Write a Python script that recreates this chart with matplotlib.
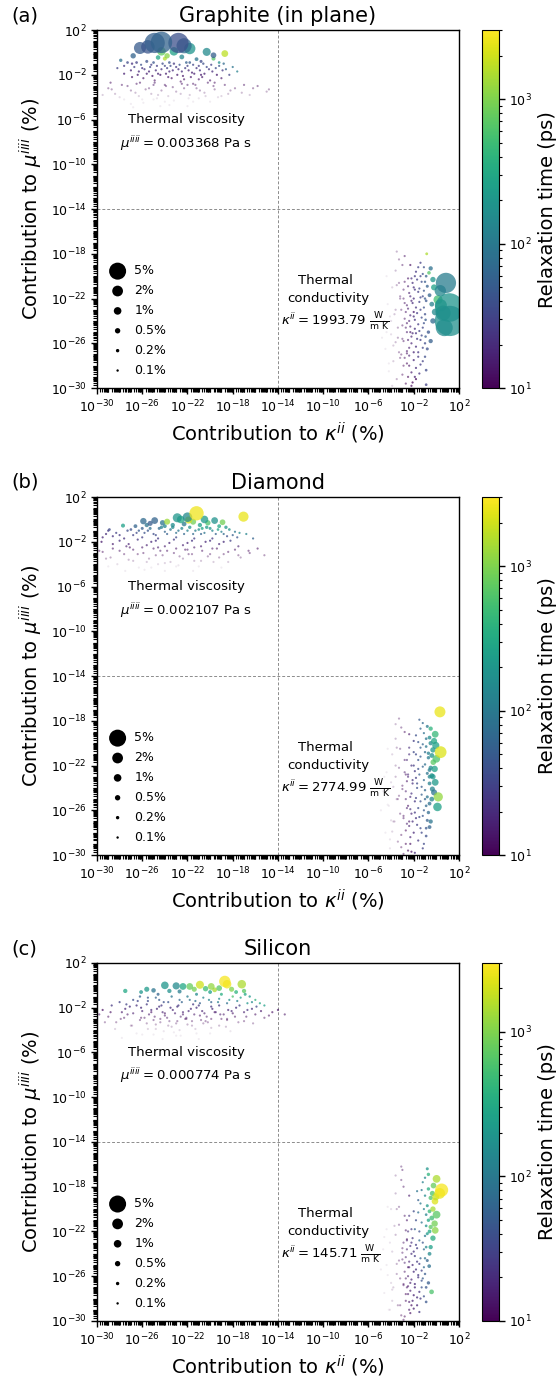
import numpy as np
import matplotlib
matplotlib.use('Agg')
import matplotlib.pyplot as plt
from matplotlib.colors import LogNorm
from matplotlib.cm import ScalarMappable
from matplotlib.ticker import FixedLocator, NullFormatter

# each point: (log10 contribution to kappa %, log10 contribution to mu %, relaxation time ps)
graphite_visc = [
    (-24.9, 0.85, 55), (-24.3, 0.9, 60), (-22.8, 0.85, 40), (-26.2, 0.4, 50), (-21.8, 0.35, 190),
    (-24.3, 0.1, 750), (-23.2, 0.1, 260), (-22.3, 0.6, 70), (-25.5, 0.5, 45), (-20.3, 0.05, 150),
    (-19.7, -0.25, 55), (-18.7, -0.1, 1700), (-19.7, -0.55, 650), (-23.8, -0.3, 1100), (-24.6, -0.45, 300),
    (-22.5, -0.4, 140), (-21.2, -0.6, 90), (-26.8, -0.3, 60), (-20.8, -0.8, 35), (-19.2, -0.9, 180),
    (-24.0, -0.55, 1600), (-25.6, -0.8, 40), (-21.8, -0.9, 50), (-23.6, -0.9, 45), (-27.9, -0.7, 80),
    (-27.6, -1.2, 25), (-27.0, -1.6, 18), (-26.5, -0.9, 30), (-26.0, -1.4, 22), (-25.6, -1.9, 16),
    (-25.2, -1.1, 28), (-24.8, -1.6, 20), (-24.4, -2.0, 15), (-24.0, -1.2, 32), (-23.6, -1.7, 19),
    (-23.2, -1.0, 26), (-22.8, -1.5, 21), (-22.4, -2.1, 14), (-22.0, -1.2, 30), (-21.6, -1.8, 17),
    (-21.2, -1.4, 24), (-20.8, -2.0, 15), (-20.3, -1.3, 35), (-19.8, -1.7, 20), (-19.2, -1.2, 45),
    (-18.6, -1.5, 60), (-18.3, -2.0, 30), (-25.9, -2.3, 13), (-24.9, -2.5, 12), (-23.4, -2.3, 13),
    (-22.6, -2.6, 12), (-21.0, -2.4, 13), (-26.9, -2.2, 14), (-20.0, -2.5, 12), (-19.0, -2.3, 14),
    (-29.5, -3.8, 11), (-28.7, -3.3, 11), (-28.0, -4.0, 10), (-27.3, -3.0, 12), (-26.6, -3.6, 11),
    (-26.0, -4.2, 10), (-25.4, -3.2, 12), (-24.6, -3.8, 11), (-24.0, -4.4, 10), (-23.3, -3.1, 12),
    (-22.6, -3.7, 11), (-21.9, -4.1, 10), (-21.2, -3.2, 12), (-20.5, -3.6, 11), (-19.7, -3.0, 12),
    (-19.0, -3.9, 10), (-18.2, -3.4, 11), (-17.2, -3.6, 10), (-16.2, -3.2, 11), (-15.0, -3.5, 10),
    (-25.0, -2.9, 13), (-22.0, -2.9, 13), (-23.6, -4.7, 10), (-27.0, -4.6, 10), (-20.0, -4.4, 10),
]
graphite_visc_dense = [
    (-27.3, -0.9, 35), (-26.9, -1.0, 22), (-26.7, -1.3, 28), (-26.3, -1.7, 19), (-26.1, -1.1, 40),
    (-25.8, -1.5, 24), (-25.4, -1.7, 18), (-25.3, -1.3, 33), (-25.0, -0.9, 45), (-24.7, -1.2, 27),
    (-24.6, -1.9, 17), (-24.3, -1.5, 23), (-24.2, -1.0, 38), (-23.9, -1.9, 16), (-23.8, -1.4, 29),
    (-23.5, -1.2, 36), (-23.3, -1.6, 21), (-23.0, -1.3, 25), (-22.9, -2.0, 15), (-22.7, -1.1, 42),
    (-22.5, -1.7, 20), (-22.2, -1.4, 28), (-22.1, -0.9, 55), (-21.9, -1.6, 18), (-21.7, -2.2, 14),
    (-21.5, -1.1, 33), (-21.4, -1.9, 16), (-21.0, -1.2, 27), (-20.9, -1.6, 22), (-20.6, -1.0, 40),
    (-20.5, -1.9, 17), (-20.1, -1.5, 25), (-19.9, -1.1, 30), (-19.5, -1.4, 38), (-19.4, -2.0, 15),
    (-18.9, -1.6, 26), (-18.8, -1.0, 70), (-26.4, -2.0, 15), (-25.1, -2.1, 14), (-23.7, -2.2, 14),
    (-22.3, -2.4, 13), (-20.7, -2.2, 14), (-24.0, -2.9, 12), (-21.5, -2.8, 12), (-26.2, -2.7, 12),
    (-19.6, -2.7, 12), (-27.6, -1.9, 17), (-28.2, -1.4, 30), (-18.0, -1.3, 90), (-17.6, -1.7, 120),
]
graphite_visc_haze = [
    (-29.0, -3.2, 11), (-28.4, -3.7, 10), (-27.8, -2.9, 12), (-27.6, -4.2, 10), (-27.0, -3.4, 11),
    (-26.5, -2.8, 12), (-26.3, -3.9, 10), (-25.9, -4.5, 10), (-25.7, -3.3, 11), (-25.2, -3.7, 10),
    (-24.9, -2.7, 13), (-24.7, -4.1, 10), (-24.3, -3.4, 11), (-23.9, -3.0, 12), (-23.7, -3.9, 10),
    (-23.2, -4.3, 10), (-23.0, -3.5, 11), (-22.5, -2.8, 12), (-22.3, -3.2, 11), (-21.8, -3.8, 10),
    (-21.5, -4.4, 10), (-21.3, -2.9, 12), (-20.9, -3.4, 11), (-20.4, -3.9, 10), (-20.2, -2.7, 13),
    (-19.6, -3.3, 11), (-19.3, -4.0, 10), (-18.7, -2.9, 12), (-18.4, -3.7, 10), (-17.8, -3.2, 11),
    (-17.0, -2.9, 12), (-16.5, -3.8, 10), (-15.8, -3.0, 11), (-14.8, -3.3, 10), (-26.8, -4.9, 10),
    (-24.4, -4.8, 10), (-22.0, -4.8, 10), (-28.8, -2.7, 12), (-25.0, -4.2, 10), (-21.0, -4.1, 10),
]
graphite_cond = [
    (0.85, -20.6, 110), (1.15, -22.8, 190), (1.2, -24.0, 170), (0.6, -23.3, 160), (0.15, -22.1, 520),
    (0.35, -21.3, 140), (0.7, -24.6, 150), (0.4, -22.6, 220), (-0.5, -19.3, 80), (-0.65, -19.7, 650),
    (-0.85, -18.0, 1500), (-0.3, -20.3, 200), (-0.2, -21.0, 260), (-0.4, -22.5, 120), (-0.1, -23.2, 150),
    (-0.6, -21.7, 60), (-0.3, -24.0, 70), (-0.7, -25.0, 45), (-0.9, -28.4, 35), (-0.9, -29.7, 30),
    (-0.8, -26.5, 40), (-1.0, -20.5, 50), (-0.5, -25.8, 55),
    (-2.2, -20.2, 20), (-1.8, -19.6, 25), (-1.4, -20.0, 30), (-1.1, -19.2, 40), (-2.4, -21.5, 16),
    (-2.0, -21.0, 22), (-1.6, -21.4, 28), (-1.2, -21.8, 35), (-0.9, -22.2, 45), (-2.6, -22.6, 14),
    (-2.2, -22.2, 18), (-1.8, -22.8, 24), (-1.4, -23.0, 30), (-1.0, -23.4, 38), (-2.8, -23.8, 13),
    (-2.4, -24.0, 16), (-2.0, -23.6, 20), (-1.6, -24.3, 26), (-1.2, -24.6, 32), (-2.6, -25.0, 14),
    (-2.2, -25.4, 17), (-1.8, -25.1, 22), (-1.4, -25.7, 28), (-1.0, -26.0, 36), (-2.4, -26.4, 15),
    (-2.0, -26.8, 18), (-1.6, -27.2, 24), (-1.2, -27.6, 30), (-1.8, -28.2, 20), (-1.4, -18.8, 28),
    (-0.8, -20.9, 55), (-2.9, -21.2, 13),
    (-4.4, -25.0, 10), (-4.0, -24.0, 11), (-3.8, -26.2, 10), (-3.6, -23.0, 11), (-3.4, -25.5, 11),
    (-3.2, -22.0, 12), (-3.1, -27.0, 10), (-3.0, -24.4, 11), (-2.9, -28.0, 10), (-2.8, -20.5, 12),
    (-2.6, -27.8, 11), (-2.5, -29.0, 10), (-2.3, -19.0, 12), (-2.1, -29.5, 10), (-3.5, -20.8, 11),
    (-4.2, -27.8, 10), (-3.3, -18.5, 11), (-1.8, -29.2, 11),
]
graphite_cond_dense = [
    (-2.5, -20.9, 15), (-2.3, -21.8, 17), (-2.1, -20.6, 21), (-1.9, -21.2, 24), (-1.7, -20.3, 29),
    (-1.5, -21.1, 32), (-1.3, -20.5, 38), (-1.1, -21.3, 45), (-0.9, -20.0, 60), (-2.7, -23.2, 13),
    (-2.5, -22.9, 15), (-2.3, -23.5, 17), (-2.1, -22.4, 20), (-1.9, -23.9, 23), (-1.7, -23.3, 27),
    (-1.5, -22.3, 31), (-1.3, -23.7, 36), (-1.1, -22.8, 42), (-0.95, -23.9, 50), (-2.7, -24.6, 13),
    (-2.5, -25.7, 14), (-2.3, -24.5, 17), (-2.1, -25.1, 19), (-1.9, -24.7, 22), (-1.7, -25.6, 25),
    (-1.5, -24.9, 30), (-1.3, -25.3, 34), (-1.1, -24.2, 40), (-0.95, -25.4, 48), (-2.6, -26.7, 13),
    (-2.4, -27.1, 15), (-2.2, -26.0, 17), (-2.0, -27.5, 19), (-1.8, -26.3, 21), (-1.6, -26.8, 24),
    (-1.4, -27.9, 27), (-1.2, -26.4, 33), (-1.0, -27.2, 38), (-2.2, -28.6, 15), (-1.9, -29.0, 17),
    (-1.5, -28.7, 22), (-1.9, -20.0, 25), (-1.6, -19.2, 30), (-1.2, -19.8, 40), (-2.9, -22.0, 12),
    (-3.0, -25.6, 12), (-2.8, -27.3, 12), (-2.0, -22.0, 20), (-1.4, -21.9, 30), (-1.0, -22.0, 48),
]
graphite_cond_haze = [
    (-4.6, -24.0, 10), (-4.5, -26.5, 10), (-4.3, -22.5, 11), (-4.2, -28.5, 10), (-4.0, -25.2, 11),
    (-3.9, -21.0, 11), (-3.8, -27.6, 10), (-3.7, -23.4, 11), (-3.6, -19.5, 12), (-3.5, -29.2, 10),
    (-3.4, -24.6, 11), (-3.3, -26.8, 11), (-3.2, -21.8, 12), (-3.1, -23.0, 12), (-3.0, -28.8, 10),
    (-3.0, -19.0, 12), (-2.9, -25.8, 12), (-2.8, -22.4, 13), (-2.7, -29.6, 10), (-2.6, -24.2, 13),
    (-2.5, -20.2, 13), (-2.4, -28.0, 12), (-2.3, -25.0, 14), (-2.2, -29.8, 11), (-2.0, -23.2, 15),
    (-4.8, -25.5, 10), (-4.4, -20.0, 10), (-3.9, -29.8, 10), (-3.5, -17.8, 11), (-2.8, -18.2, 12),
    (-3.6, -25.9, 11), (-3.2, -27.3, 11), (-4.1, -23.6, 10), (-2.6, -26.9, 12), (-3.3, -20.6, 11),
]
diamond_visc = [
    (-21.2, 0.55, 2600), (-17.05, 0.25, 2500), (-21.9, -0.05, 2000), (-23.8, -0.2, 1300), (-22.6, 0.0, 300),
    (-22.9, 0.15, 200), (-22.0, 0.2, 150), (-21.5, -0.2, 900), (-20.5, 0.0, 220), (-19.6, -0.1, 180),
    (-20.2, -0.3, 600), (-18.9, -0.25, 900), (-22.3, -0.4, 100), (-25.9, -0.15, 70), (-24.9, -0.1, 60),
    (-25.3, -0.35, 50), (-27.7, -0.55, 250), (-24.2, -0.3, 90), (-23.3, -0.5, 160), (-20.9, -0.5, 250),
    (-19.2, -0.6, 300), (-18.3, -0.9, 180), (-17.8, -1.1, 90),
    (-27.0, -0.9, 40), (-26.5, -1.2, 35), (-26.0, -0.8, 55), (-25.5, -1.0, 45), (-25.0, -1.3, 38),
    (-24.5, -0.8, 70), (-24.0, -1.1, 60), (-23.5, -0.9, 110), (-23.0, -1.2, 80), (-22.5, -0.8, 140),
    (-22.0, -1.0, 120), (-21.5, -1.3, 70), (-21.0, -0.9, 160), (-20.5, -1.2, 90), (-20.0, -0.8, 200),
    (-19.5, -1.3, 60), (-19.0, -1.1, 120), (-18.5, -1.5, 40), (-28.3, -1.2, 30), (-29.0, -1.0, 25),
    (-28.6, -1.5, 22),
    (-28.0, -1.9, 20), (-27.2, -2.2, 17), (-26.4, -1.8, 24), (-25.6, -2.3, 16), (-24.8, -1.9, 22),
    (-24.0, -2.4, 15), (-23.2, -1.8, 26), (-22.4, -2.3, 17), (-21.6, -1.9, 24), (-20.8, -2.4, 15),
    (-20.0, -1.9, 22), (-19.2, -2.2, 18), (-18.2, -1.9, 30), (-17.5, -2.4, 16), (-26.8, -2.7, 13),
    (-24.4, -2.8, 13), (-22.0, -2.7, 13), (-29.5, -1.6, 18),
    (-29.5, -2.9, 11), (-28.8, -3.4, 10), (-28.0, -2.8, 12), (-27.2, -3.6, 10), (-26.4, -3.1, 11),
    (-25.6, -3.8, 10), (-24.8, -3.2, 11), (-24.0, -3.9, 10), (-23.2, -3.0, 12), (-22.4, -3.5, 11),
    (-21.6, -3.1, 11), (-20.8, -3.7, 10), (-20.0, -3.1, 11), (-19.2, -3.4, 10), (-18.4, -2.9, 11),
    (-17.5, -3.2, 10), (-16.6, -2.8, 11), (-25.2, -4.3, 10), (-22.8, -4.1, 10),
]
diamond_visc_dense = [
    (-27.3, -1.0, 38), (-26.8, -1.4, 30), (-26.3, -1.0, 50), (-25.8, -1.2, 42), (-25.3, -0.8, 80),
    (-24.8, -1.4, 36), (-24.3, -0.7, 120), (-23.8, -1.3, 55), (-23.3, -0.7, 150), (-22.8, -1.0, 95),
    (-22.3, -1.3, 65), (-21.8, -0.7, 170), (-21.3, -1.0, 110), (-20.8, -1.3, 60), (-20.3, -0.7, 240),
    (-19.8, -1.0, 140), (-19.3, -0.9, 260), (-18.8, -1.3, 70), (-18.0, -1.4, 55), (-17.6, -1.6, 45),
    (-28.0, -1.4, 25), (-27.6, -1.7, 22), (-26.0, -1.6, 28), (-24.6, -1.7, 26), (-23.0, -1.6, 35),
    (-21.4, -1.7, 28), (-19.8, -1.7, 25), (-25.2, -2.0, 19), (-23.6, -2.1, 18), (-22.0, -2.1, 18),
    (-20.4, -2.0, 19), (-18.8, -2.0, 20), (-27.4, -2.4, 15), (-26.0, -2.5, 14), (-24.6, -2.5, 14),
    (-23.0, -2.6, 13), (-21.4, -2.5, 14), (-19.8, -2.6, 13), (-28.6, -2.2, 15), (-29.2, -1.3, 20),
    (-28.9, -0.9, 35), (-26.6, -0.6, 60), (-25.6, -0.5, 90), (-24.0, -0.6, 140), (-20.7, -0.8, 300),
    (-17.4, -1.2, 150), (-18.6, -0.7, 200), (-16.8, -1.3, 130), (-16.2, -1.7, 60), (-29.6, -2.0, 15),
]
diamond_visc_haze = [
    (-29.8, -2.8, 11), (-29.2, -3.5, 10), (-28.6, -2.6, 12), (-28.2, -4.0, 10), (-27.6, -3.1, 11),
    (-27.1, -2.5, 12), (-26.8, -3.7, 10), (-26.3, -4.3, 10), (-25.9, -3.0, 11), (-25.4, -3.5, 10),
    (-25.0, -2.6, 12), (-24.6, -4.0, 10), (-24.2, -3.2, 11), (-23.8, -2.8, 12), (-23.5, -3.8, 10),
    (-23.0, -4.2, 10), (-22.7, -3.3, 11), (-22.2, -2.7, 12), (-21.9, -3.1, 11), (-21.4, -3.7, 10),
    (-21.0, -4.2, 10), (-20.7, -2.8, 12), (-20.2, -3.3, 11), (-19.7, -3.8, 10), (-19.4, -2.6, 12),
    (-18.8, -3.1, 11), (-18.4, -3.8, 10), (-17.8, -2.7, 12), (-17.3, -3.4, 10), (-16.5, -3.0, 11),
    (-15.8, -2.6, 12), (-15.2, -3.2, 10), (-27.5, -4.6, 10), (-24.0, -4.6, 10), (-21.5, -4.6, 10),
    (-29.0, -4.2, 10), (-25.8, -4.5, 10), (-19.0, -4.3, 10),
]
diamond_cond = [
    (0.32, -17.2, 2500), (0.38, -20.8, 2200), (0.17, -24.8, 1200), (0.1, -25.7, 250), (-0.27, -21.7, 700),
    (-0.1, -19.2, 450), (-0.2, -19.8, 300), (-0.05, -20.2, 250), (-0.3, -20.6, 200), (0.0, -21.4, 600),
    (-0.15, -22.3, 250), (-0.4, -22.9, 180), (-0.1, -23.5, 220), (-0.35, -24.1, 130), (-0.5, -18.7, 400),
    (-0.6, -23.6, 120), (-0.2, -24.4, 90),
    (-1.2, -18.2, 70), (-0.9, -19.6, 90), (-1.4, -20.4, 55), (-0.7, -20.9, 120), (-1.6, -21.5, 45),
    (-1.0, -21.9, 80), (-0.6, -22.4, 110), (-1.5, -22.8, 50), (-1.1, -23.3, 70), (-0.8, -24.8, 90),
    (-1.7, -24.0, 40), (-1.3, -24.6, 55), (-0.9, -25.6, 70), (-1.6, -25.8, 38), (-1.2, -26.5, 45),
    (-0.8, -26.9, 55), (-1.4, -27.6, 35), (-0.9, -28.3, 40), (-1.1, -29.0, 35), (-0.6, -27.5, 60),
    (-1.8, -19.3, 40), (-2.0, -20.8, 35),
    (-2.6, -21.5, 18), (-2.2, -22.0, 22), (-1.9, -22.5, 26), (-2.5, -23.0, 17), (-2.1, -23.6, 21),
    (-1.8, -23.1, 28), (-2.7, -24.3, 15), (-2.3, -24.8, 19), (-1.9, -25.2, 24), (-2.6, -25.8, 15),
    (-2.2, -26.3, 18), (-1.8, -26.7, 22), (-2.4, -27.4, 16), (-2.0, -28.0, 19), (-2.8, -22.6, 14),
    (-2.4, -20.4, 20),
    (-4.3, -25.5, 10), (-4.0, -23.5, 11), (-3.8, -27.0, 10), (-3.6, -22.0, 11), (-3.4, -25.0, 11),
    (-3.2, -20.5, 12), (-3.1, -28.2, 10), (-3.0, -23.8, 11), (-2.9, -26.5, 11), (-2.8, -19.0, 12),
    (-2.7, -29.0, 10), (-3.6, -18.3, 11), (-4.1, -28.6, 10), (-2.5, -29.6, 10), (-3.3, -17.8, 11),
]
diamond_cond_dense = [
    (-1.4, -18.7, 60), (-1.1, -19.1, 80), (-0.8, -18.5, 100), (-1.6, -19.9, 45), (-1.2, -20.1, 65),
    (-0.9, -20.3, 95), (-0.5, -20.0, 150), (-1.8, -21.0, 35), (-1.4, -21.2, 50), (-1.0, -20.8, 75),
    (-0.7, -21.3, 110), (-0.4, -21.1, 180), (-2.0, -22.0, 28), (-1.6, -22.3, 40), (-1.2, -22.1, 60),
    (-0.8, -22.7, 90), (-0.5, -22.2, 140), (-2.1, -23.3, 24), (-1.7, -23.6, 35), (-1.3, -23.9, 50),
    (-1.0, -24.2, 65), (-0.6, -23.0, 130), (-2.2, -24.5, 22), (-1.8, -24.9, 30), (-1.4, -25.2, 42),
    (-1.0, -25.0, 60), (-0.6, -25.4, 80), (-2.3, -25.9, 20), (-1.9, -26.2, 26), (-1.5, -26.6, 36),
    (-1.1, -26.0, 50), (-0.7, -26.2, 70), (-2.1, -27.0, 20), (-1.7, -27.3, 28), (-1.3, -28.0, 34),
    (-0.9, -27.6, 45), (-1.6, -28.7, 25), (-1.2, -29.4, 30), (-2.5, -22.8, 18), (-2.4, -21.0, 20),
    (-2.0, -19.8, 28), (-1.5, -17.9, 50), (-0.6, -19.5, 160), (-0.3, -23.0, 200), (-0.4, -25.0, 130),
    (-0.5, -27.0, 90), (-2.7, -25.0, 15), (-2.6, -27.2, 15), (-2.3, -28.4, 17), (-1.9, -29.8, 20),
]
diamond_cond_haze = [
    (-4.9, -26.0, 10), (-4.7, -24.3, 10), (-4.5, -28.0, 10), (-4.4, -22.6, 11), (-4.2, -25.6, 10),
    (-4.1, -29.4, 10), (-3.9, -21.0, 11), (-3.8, -23.9, 11), (-3.7, -27.0, 10), (-3.6, -19.6, 12),
    (-3.5, -25.0, 11), (-3.4, -28.8, 10), (-3.3, -22.2, 12), (-3.2, -26.3, 11), (-3.1, -18.6, 12),
    (-3.0, -24.1, 12), (-2.9, -29.9, 10), (-2.8, -21.5, 13), (-2.7, -27.8, 11), (-2.6, -23.4, 13),
    (-2.5, -25.6, 13), (-2.4, -19.2, 14), (-2.3, -29.0, 12), (-2.2, -29.7, 12), (-3.9, -27.9, 10),
    (-4.3, -20.5, 10), (-3.3, -24.7, 11), (-2.9, -26.7, 12), (-3.6, -23.0, 11), (-4.0, -26.9, 10),
    (-2.7, -22.8, 13), (-3.1, -29.3, 10), (-3.5, -20.4, 11), (-4.6, -23.0, 10), (-2.4, -27.0, 13),
]
silicon_visc = [
    (-18.7, 0.35, 2800), (-18.5, 0.1, 2600), (-20.9, 0.05, 2000), (-17.2, 0.1, 1500), (-21.8, -0.1, 800),
    (-24.0, 0.0, 200), (-23.0, -0.05, 150), (-22.4, -0.1, 300), (-19.9, -0.1, 1200), (-19.2, -0.25, 700),
    (-20.4, -0.3, 500), (-21.4, -0.35, 900), (-18.1, -0.35, 1000), (-17.7, -0.6, 400), (-16.9, -0.8, 300),
    (-16.5, -1.0, 200), (-27.5, -0.5, 300), (-25.0, -0.45, 90), (-26.1, -0.6, 200), (-25.6, -0.35, 220),
    (-23.6, -0.5, 170), (-22.7, -0.55, 110), (-24.6, -0.8, 60), (-20.0, -0.6, 250), (-19.0, -0.8, 350),
    (-21.2, -0.8, 150), (-18.0, -1.0, 600), (-16.3, -1.5, 150), (-16.0, -1.3, 400),
    (-26.8, -1.3, 40), (-26.2, -1.0, 55), (-25.5, -1.4, 35), (-24.8, -1.1, 60), (-24.1, -1.5, 40),
    (-23.4, -1.0, 90), (-22.7, -1.3, 65), (-22.0, -1.0, 110), (-21.3, -1.4, 70), (-20.6, -1.1, 130),
    (-19.9, -1.5, 60), (-19.2, -1.2, 160), (-18.5, -1.6, 80), (-17.6, -1.4, 120), (-28.0, -1.5, 30),
    (-28.7, -1.8, 25), (-27.4, -1.7, 30),
    (-27.5, -2.1, 18), (-26.8, -2.5, 15), (-26.1, -2.0, 20), (-25.4, -2.6, 14), (-24.7, -2.1, 19),
    (-24.0, -2.7, 13), (-23.3, -2.2, 18), (-22.6, -2.8, 13), (-21.9, -2.3, 17), (-21.2, -2.0, 21),
    (-20.5, -2.5, 15), (-19.8, -2.1, 19), (-19.1, -2.6, 14), (-18.4, -2.2, 18), (-17.7, -2.0, 22),
    (-17.0, -2.4, 16), (-16.3, -2.1, 20), (-25.0, -3.1, 12), (-23.6, -3.2, 12), (-22.2, -3.0, 12),
    (-20.8, -3.1, 12), (-24.3, -1.8, 24), (-22.9, -1.9, 22), (-21.5, -1.7, 26),
    (-29.5, -2.2, 12), (-29.0, -2.8, 11), (-28.3, -3.3, 10), (-27.6, -2.9, 11), (-26.9, -3.6, 10),
    (-26.2, -3.1, 11), (-25.5, -3.9, 10), (-24.8, -3.5, 10), (-24.1, -4.1, 10), (-23.4, -3.7, 10),
    (-22.7, -4.0, 10), (-22.0, -3.5, 10), (-21.3, -3.9, 10), (-20.6, -3.4, 11), (-19.9, -3.0, 11),
    (-19.2, -3.6, 10), (-18.5, -3.1, 11), (-17.8, -2.8, 12), (-17.0, -3.2, 11), (-16.0, -2.6, 12),
    (-15.2, -2.9, 11), (-14.5, -2.4, 12), (-26.0, -4.4, 10), (-23.0, -4.5, 10),
]
silicon_visc_dense = [
    (-26.5, -1.8, 22), (-26.0, -2.3, 17), (-25.6, -1.7, 25), (-25.2, -2.2, 18), (-24.9, -2.8, 13),
    (-24.5, -1.9, 22), (-24.2, -2.4, 16), (-23.8, -2.9, 13), (-23.5, -2.0, 20), (-23.1, -2.5, 15),
    (-22.8, -1.8, 25), (-22.4, -2.4, 16), (-22.1, -2.9, 13), (-21.7, -2.1, 19), (-21.4, -2.6, 14),
    (-21.0, -1.8, 24), (-20.7, -2.3, 17), (-20.3, -2.8, 13), (-19.9, -1.9, 23), (-19.5, -2.4, 16),
    (-19.2, -1.8, 26), (-18.8, -2.6, 14), (-18.1, -2.3, 18), (-17.4, -1.8, 30), (-16.7, -2.2, 22),
    (-15.9, -1.9, 35), (-25.8, -2.9, 12), (-24.4, -3.3, 11), (-23.0, -3.4, 11), (-21.6, -3.2, 11),
    (-20.2, -3.3, 11), (-18.5, -3.0, 12), (-27.8, -2.4, 14), (-27.1, -1.9, 20), (-26.4, -1.4, 32),
    (-25.5, -1.1, 45), (-24.5, -1.3, 50), (-23.7, -1.5, 45), (-22.5, -1.5, 60), (-21.8, -1.3, 85),
    (-20.9, -1.6, 55), (-20.1, -1.3, 120), (-19.3, -1.5, 110), (-18.3, -1.3, 180), (-17.3, -1.1, 250),
    (-16.7, -1.6, 200), (-15.6, -1.6, 300), (-15.2, -1.8, 250), (-17.0, -0.5, 700), (-19.6, -0.4, 1500),
]
silicon_visc_haze = [
    (-29.8, -2.6, 12), (-29.3, -3.3, 11), (-28.8, -2.4, 12), (-28.4, -3.9, 10), (-27.9, -3.0, 11),
    (-27.3, -2.6, 12), (-27.0, -3.6, 10), (-26.5, -4.3, 10), (-26.1, -2.9, 11), (-25.6, -3.4, 10),
    (-25.2, -2.4, 13), (-24.8, -3.9, 10), (-24.4, -3.0, 11), (-24.0, -2.5, 13), (-23.7, -3.6, 10),
    (-23.2, -4.2, 10), (-22.9, -3.2, 11), (-22.4, -2.6, 13), (-22.1, -3.0, 11), (-21.6, -3.6, 10),
    (-21.2, -4.3, 10), (-20.9, -2.7, 12), (-20.4, -3.2, 11), (-19.9, -3.8, 10), (-19.6, -2.4, 13),
    (-19.0, -3.0, 11), (-18.6, -3.7, 10), (-18.0, -2.5, 13), (-17.5, -3.3, 11), (-16.8, -2.8, 12),
    (-16.2, -3.4, 11), (-15.5, -2.3, 14), (-14.8, -2.7, 12), (-14.0, -2.2, 14), (-13.4, -2.6, 13),
    (-27.8, -4.7, 10), (-24.2, -4.8, 10), (-21.0, -4.8, 10), (-25.0, -4.4, 10), (-22.6, -4.5, 10),
    (-20.0, -4.3, 10), (-18.2, -4.1, 10),
]
silicon_cond = [
    (0.47, -18.3, 2800), (0.3, -18.6, 2500), (0.02, -17.3, 1500), (0.02, -20.5, 700), (-0.12, -19.3, 2200),
    (-0.05, -18.9, 1800), (-0.15, -21.3, 900), (-0.1, -21.9, 1100), (-0.3, -20.0, 1400), (-0.25, -17.9, 800),
    (-0.35, -18.6, 600), (-0.4, -20.8, 500), (-0.3, -22.6, 350), (-0.5, -23.4, 250), (-0.6, -22.0, 300),
    (-0.42, -27.4, 600), (-0.7, -16.9, 400), (-0.8, -19.7, 220), (-0.9, -21.5, 180), (-0.6, -24.0, 150),
    (-1.2, -17.6, 120), (-1.0, -18.8, 150), (-1.4, -19.5, 100), (-0.9, -20.5, 130), (-1.3, -21.2, 90),
    (-1.0, -22.4, 100), (-1.5, -22.8, 70), (-1.1, -23.6, 75), (-0.8, -24.6, 60), (-1.4, -24.4, 55),
    (-0.63, -25.1, 80), (-1.0, -25.8, 50), (-1.3, -26.4, 40), (-0.9, -27.0, 45), (-1.1, -27.8, 38),
    (-0.7, -26.6, 50), (-1.6, -20.3, 80), (-1.7, -18.4, 90), (-1.9, -21.8, 60),
    (-2.5, -22.0, 20), (-2.1, -22.6, 24), (-1.8, -23.2, 28), (-2.6, -23.6, 17), (-2.2, -24.0, 20),
    (-1.7, -24.7, 25), (-2.8, -24.8, 15), (-2.4, -25.2, 17), (-2.0, -25.6, 20), (-1.6, -25.9, 24),
    (-2.7, -26.2, 14), (-2.3, -26.6, 16), (-1.9, -27.0, 19), (-1.5, -27.4, 22), (-2.5, -27.6, 14),
    (-2.1, -28.2, 16), (-1.7, -28.6, 18), (-2.2, -23.0, 22), (-1.9, -24.2, 26), (-2.4, -29.0, 14),
    (-4.4, -25.0, 10), (-4.1, -23.0, 11), (-3.9, -27.2, 10), (-3.7, -21.5, 11), (-3.5, -25.8, 11),
    (-3.3, -19.8, 12), (-3.2, -28.6, 10), (-3.0, -23.5, 11), (-2.9, -18.0, 12), (-2.8, -29.6, 10),
    (-3.6, -17.0, 11), (-4.2, -29.0, 10), (-3.1, -16.2, 12), (-2.6, -21.0, 13),
]
silicon_cond_dense = [
    (-2.6, -22.8, 17), (-2.3, -23.3, 20), (-2.0, -23.8, 23), (-1.7, -23.5, 28), (-2.7, -24.3, 15),
    (-2.4, -24.7, 17), (-2.1, -25.0, 19), (-1.8, -25.4, 22), (-1.5, -24.9, 27), (-2.8, -25.6, 13),
    (-2.5, -26.0, 15), (-2.2, -26.3, 17), (-1.9, -26.7, 19), (-1.6, -26.1, 23), (-2.6, -27.0, 14),
    (-2.3, -27.3, 15), (-2.0, -27.7, 17), (-1.7, -27.9, 20), (-2.4, -28.3, 14), (-2.0, -28.9, 16),
    (-1.4, -28.0, 25), (-1.3, -25.5, 30), (-1.2, -23.0, 45), (-1.5, -22.0, 40), (-1.8, -21.0, 38),
    (-2.0, -20.2, 35), (-1.6, -19.2, 55), (-1.3, -18.3, 90), (-1.0, -17.2, 150), (-0.8, -16.4, 200),
    (-2.9, -23.0, 13), (-3.0, -24.5, 12), (-2.9, -26.8, 12), (-2.7, -28.2, 12), (-2.2, -21.8, 25),
    (-2.4, -20.6, 22), (-1.1, -20.0, 120), (-0.7, -18.2, 350), (-0.5, -19.0, 600), (-0.6, -20.2, 450),
    (-0.7, -21.0, 300), (-0.8, -22.2, 220), (-0.9, -23.4, 140), (-1.0, -24.4, 90), (-1.1, -25.2, 70),
    (-1.2, -26.2, 50), (-1.3, -27.0, 40), (-0.9, -28.3, 45), (-1.5, -29.2, 25), (-0.5, -21.6, 700),
]
silicon_cond_haze = [
    (-4.9, -25.4, 10), (-4.7, -23.6, 10), (-4.6, -27.5, 10), (-4.4, -21.8, 11), (-4.3, -25.9, 10),
    (-4.1, -29.0, 10), (-4.0, -20.0, 11), (-3.9, -23.8, 11), (-3.8, -27.0, 10), (-3.6, -18.6, 12),
    (-3.5, -24.9, 11), (-3.4, -28.6, 10), (-3.3, -21.4, 12), (-3.2, -26.2, 11), (-3.1, -17.4, 12),
    (-3.0, -23.9, 12), (-2.9, -29.9, 10), (-2.8, -20.6, 13), (-2.7, -27.6, 11), (-2.6, -22.7, 13),
    (-2.5, -25.2, 13), (-2.4, -18.8, 14), (-2.3, -29.3, 12), (-2.2, -28.6, 12), (-3.9, -28.2, 10),
    (-4.3, -19.8, 10), (-3.3, -24.6, 11), (-2.9, -26.7, 12), (-3.6, -22.3, 11), (-4.0, -26.6, 10),
    (-2.7, -21.9, 13), (-3.1, -29.5, 10), (-3.5, -20.0, 11), (-4.6, -22.5, 10), (-2.5, -26.9, 13),
    (-3.0, -16.5, 12),
]

titles = ['Graphite (in plane)', 'Diamond', 'Silicon']
tags = ['(a)', '(b)', '(c)']
viscosities = ['0.003368', '0.002107', '0.000774']
conductivities = ['1993.79', '2774.99', '145.71']
legend_pcts = [5, 2, 1, 0.5, 0.2, 0.1]
all_points = [
    graphite_visc + graphite_visc_dense + graphite_visc_haze
    + graphite_cond + graphite_cond_dense + graphite_cond_haze,
    diamond_visc + diamond_visc_dense + diamond_visc_haze
    + diamond_cond + diamond_cond_dense + diamond_cond_haze,
    silicon_visc + silicon_visc_dense + silicon_visc_haze
    + silicon_cond + silicon_cond_dense + silicon_cond_haze,
]

fig = plt.figure(figsize=(5.58, 13.8), dpi=100)
norm = LogNorm(vmin=10, vmax=3000)
cmap = plt.cm.viridis
bottoms = [0.7188, 0.3804, 0.0428]
tag_y = [0.9886, 0.6510, 0.3120]

major_locs = 10.0**np.arange(-30, 3, 4)
minor_locs = [m * 10.0**e for e in range(-30, 2) for m in range(1, 10)
              if not (m == 1 and (e + 30) % 4 == 0)]

for k in range(3):
    ax = fig.add_axes([0.1738, bottoms[k], 0.6487, 0.2594])
    pts = np.array(all_points[k], dtype=float)
    lx, ly, tau = pts[:, 0], pts[:, 1], pts[:, 2]
    dom = np.maximum(lx, ly)
    size = np.maximum(30 * 10**dom, 2.5)
    alpha = np.clip(0.75 * (dom + 4.4) / 2.4, 0.07, 0.75)
    cols = cmap(norm(tau))
    cols[:, 3] = alpha
    order = np.argsort(size)
    ax.axvline(1e-14, color='0.55', lw=0.7, ls=(0, (3, 2)), zorder=1)
    ax.axhline(1e-14, color='0.55', lw=0.7, ls=(0, (3, 2)), zorder=1)
    ax.scatter(10**lx[order], 10**ly[order], s=size[order], c=cols[order],
               edgecolors='none', zorder=2)

    ax.set_xscale('log')
    ax.set_yscale('log')
    ax.set_xlim(1e-30, 1e2)
    ax.set_ylim(1e-30, 1e2)
    for axis in (ax.xaxis, ax.yaxis):
        axis.set_major_locator(FixedLocator(major_locs))
        axis.set_minor_locator(FixedLocator(minor_locs))
        axis.set_minor_formatter(NullFormatter())
    ax.tick_params(which='major', labelsize=9, length=4, width=1.0)
    ax.tick_params(which='minor', length=2.6, width=0.8)
    for sp in ax.spines.values():
        sp.set_linewidth(1.0)

    ax.set_title(titles[k], fontsize=15)
    ax.set_xlabel(r'Contribution to $\kappa^{ii}$ (%)', fontsize=14)
    ax.set_ylabel(r'Contribution to $\mu^{iiii}$ (%)', fontsize=14)

    ax.text(10**-22.1, 10**-6.0, 'Thermal viscosity', fontsize=9.5, ha='center', va='center')
    ax.text(10**-28.0, 10**-8.1, r'$\mu^{iiii} = %s$ Pa s' % viscosities[k],
            fontsize=9.5, ha='left', va='center')
    ax.text(10**-9.8, 10**-20.4, 'Thermal', fontsize=9.5, ha='center', va='center')
    ax.text(10**-9.55, 10**-22.0, 'conductivity', fontsize=9.5, ha='center', va='center')
    ax.text(10**-13.7, 10**-24.1,
            r'$\kappa^{ii} = %s\ \frac{\mathrm{W}}{\mathrm{m\ K}}$' % conductivities[k],
            fontsize=9.5, ha='left', va='center')

    handles = [ax.scatter([], [], s=30 * p, color='k', edgecolors='none') for p in legend_pcts]
    ax.legend(handles, ['%g%%' % p for p in legend_pcts], loc='lower left', frameon=False,
              fontsize=9, handlelength=1.5, handletextpad=0.6, labelspacing=0.55,
              scatterpoints=1, borderaxespad=0.5)

    cax = fig.add_axes([0.8638, bottoms[k], 0.0305, 0.2594])
    cb = fig.colorbar(ScalarMappable(norm=norm, cmap=cmap), cax=cax)
    cb.set_label('Relaxation time (ps)', fontsize=14)
    cb.ax.tick_params(which='major', labelsize=9, length=4, width=1.0)
    cb.ax.tick_params(which='minor', length=2.5, width=0.8)

    fig.text(0.02, tag_y[k], tags[k], fontsize=14, va='center', ha='left')

fig.savefig('out.png', dpi=100)
